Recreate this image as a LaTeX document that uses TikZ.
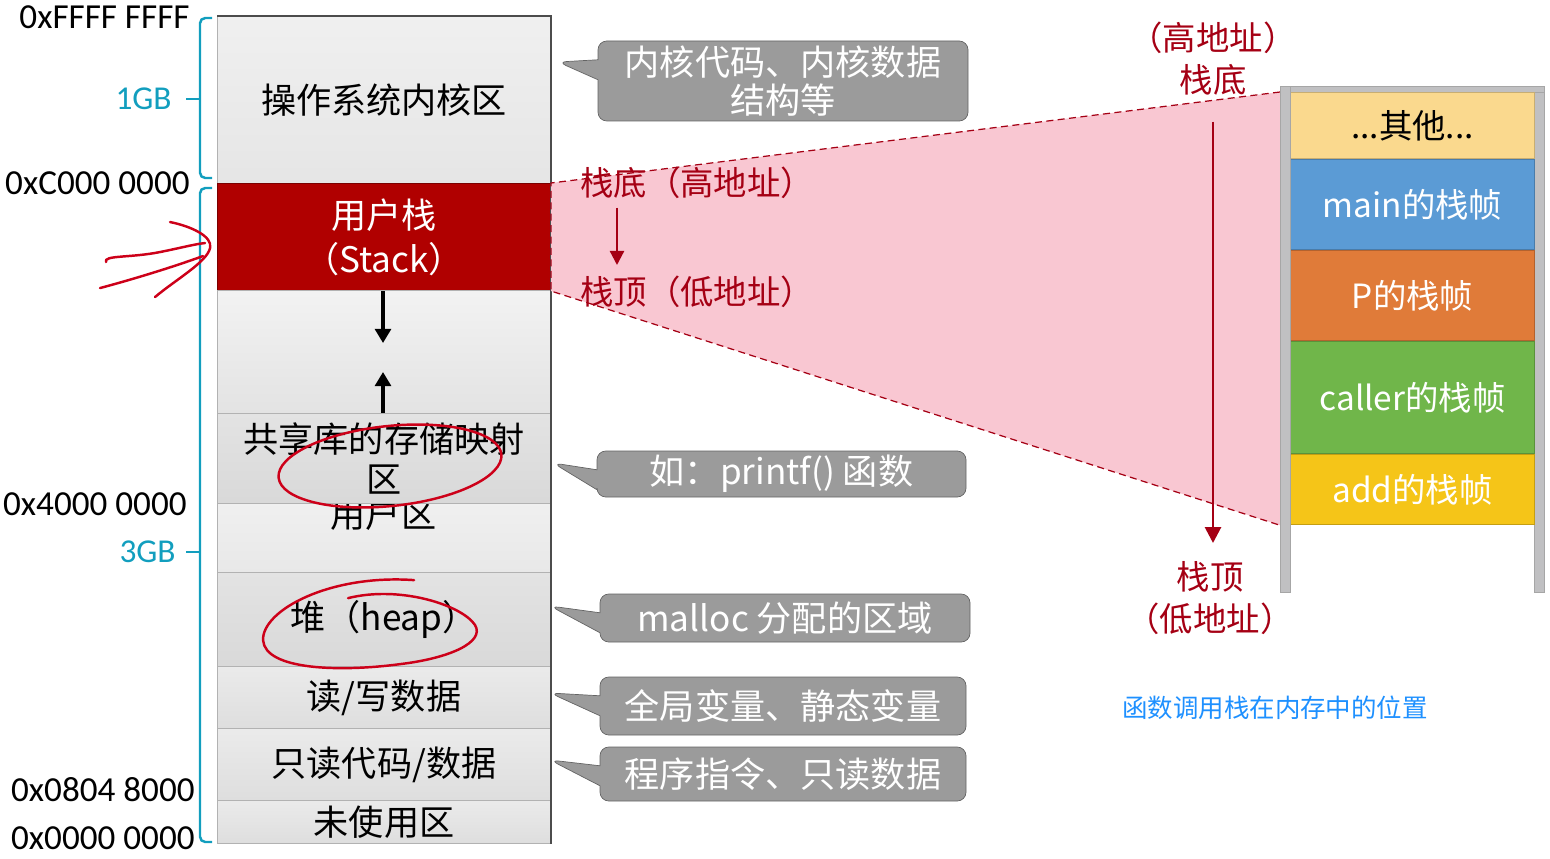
\documentclass[tikz,border=0pt]{standalone}
\usepackage{fontspec}
\setmainfont{Noto Sans CJK SC}
\newfontfamily\addrfont{Carlito}
\usetikzlibrary{arrows.meta,positioning,shapes.callouts}
\definecolor{stackRed}{RGB}{176,0,0}
\definecolor{inkRed}{RGB}{165,0,20}
\definecolor{handRed}{RGB}{205,0,25}
\definecolor{wedgePink}{RGB}{249,199,210}
\definecolor{braceCyan}{RGB}{18,158,190}
\definecolor{noteFill}{RGB}{155,155,155}
\definecolor{noteEdge}{RGB}{100,100,100}
\definecolor{barGray}{RGB}{192,192,194}
\definecolor{frameOther}{RGB}{250,217,142}
\definecolor{frameMain}{RGB}{91,155,213}
\definecolor{frameP}{RGB}{224,123,57}
\definecolor{frameCaller}{RGB}{112,182,74}
\definecolor{frameAdd}{RGB}{245,197,24}
\definecolor{captionBlue}{RGB}{30,144,255}
\tikzset{
  memSeg/.style={draw=gray!60, line width=0.6pt, anchor=north west, minimum width=6.66cm, inner sep=0pt, align=center, font=\fontsize{20}{23}\selectfont},
  memText/.style={inner sep=0pt, align=center, font=\fontsize{20}{23}\selectfont},
  memNote/.style={rectangle callout, draw=noteEdge, fill=noteFill, rounded corners=5pt, text=white, inner sep=0pt, align=center, font=\fontsize{20}{22}\selectfont, callout pointer width=0.40cm},
  addrLabel/.style={anchor=east, inner sep=0pt, font=\addrfont\fontsize{20}{24}\selectfont},
  sizeLabel/.style={inner sep=0pt, text=braceCyan, font=\addrfont\fontsize{19}{22}\selectfont},
  sizeBrace/.style={draw=braceCyan, line width=1.4pt, rounded corners=3pt},
  growArrow/.style={-{Triangle[width=9pt,length=8pt]}, line width=1.9pt},
  redNote/.style={text=inkRed, inner sep=0pt, align=center, font=\fontsize{19}{24}\selectfont},
  redArrow/.style={-{Triangle[width=9pt,length=9pt]}, line width=1.6pt, draw=inkRed, fill=inkRed},
  wedgeEdge/.style={draw=inkRed, line width=0.7pt, dash pattern=on 4pt off 2.5pt},
  frameBox/.style={draw=#1!80!black, fill=#1, line width=0.6pt, minimum width=4.88cm, inner sep=0pt, text=white, font=\fontsize{19}{22}\selectfont},
  frameBar/.style={draw=gray!70, fill=barGray, line width=0.4pt, anchor=north west, inner sep=0pt},
  handInk/.style={draw=handRed, line width=1.4pt, line cap=round}
}
\begin{document}
\begin{tikzpicture}
  \useasboundingbox (0,0) rectangle (31,-17.18);
  % memory column
  \node[memSeg, minimum height=3.34cm, top color=gray!12, bottom color=gray!20] (kernel) at (4.34,-0.32) {操作系统内核区};
  \node[memSeg, minimum height=2.14cm, fill=stackRed, draw=stackRed!70!black, text=white, font=\fontsize{20}{25}\selectfont] (stack) at (4.34,-3.66) {用户栈\\（Stack）};
  \node[memSeg, minimum height=2.46cm, top color=gray!10, bottom color=gray!22] (gap) at (4.34,-5.80) {};
  \node[memSeg, minimum height=1.38cm, top color=gray!12, bottom color=gray!18] (userSeg) at (4.34,-10.06) {};
  \node[memText] (userLabel) at (7.67,-10.28) {用户区};
  \node[memSeg, minimum height=1.80cm, top color=gray!22, bottom color=gray!30] (shared) at (4.34,-8.26) {共享库的存储映射\\区};
  \node[memSeg, minimum height=1.88cm, top color=gray!22, bottom color=gray!30] (heap) at (4.34,-11.44) {堆（heap）};
  \node[memSeg, minimum height=1.24cm, top color=gray!16, bottom color=gray!26] (rwData) at (4.34,-13.32) {读/写数据};
  \node[memSeg, minimum height=1.44cm, top color=gray!16, bottom color=gray!26] (roData) at (4.34,-14.56) {只读代码/数据};
  \node[memSeg, minimum height=0.86cm, top color=gray!16, bottom color=gray!26] (unused) at (4.34,-16.00) {未使用区};
  \draw[black!70, line width=1pt] (kernel.north west) -- (kernel.north east) -- (unused.south east);

  % growth arrows
  \coordinate (stackGrow) at (7.66,-6.86);
  \coordinate (libGrow) at (7.66,-7.44);
  \draw[growArrow] (stack.south -| stackGrow) -- (stackGrow);
  \draw[growArrow] (shared.north -| libGrow) -- (libGrow);

  % addresses and braces
  \node[addrLabel] (addrTop) at (3.80,-0.34) {0xFFFF FFFF};
  \node[addrLabel] (addrKernel) at (3.80,-3.66) {0xC000 0000};
  \node[addrLabel] (addrLib) at (3.74,-10.08) {0x4000 0000};
  \node[addrLabel] (addrCode) at (3.90,-15.80) {0x0804 8000};
  \node[addrLabel] (addrZero) at (3.90,-16.76) {0x0000 0000};
  \draw[sizeBrace] (4.24,-0.36) -- (4.0,-0.36) -- (4.0,-3.56) -- (4.24,-3.56);
  \draw[sizeBrace] (4.24,-3.76) -- (4.0,-3.76) -- (4.0,-16.84) -- (4.24,-16.84);
  \coordinate (tickA) at (3.72,-1.98);
  \coordinate (tickB) at (3.72,-11.04);
  \draw[sizeBrace] (4.0,-1.98) -- (tickA);
  \draw[sizeBrace] (4.0,-11.04) -- (tickB);
  \node[sizeLabel, left=0.28cm of tickA] (sizeKernel) {1GB};
  \node[sizeLabel, left=0.2cm of tickB] (sizeUser) {3GB};

  % notes
  \coordinate (kernelTip) at (11.16,-1.24);
  \coordinate (libTip) at (11.06,-9.26);
  \coordinate (heapTip) at (11.0,-12.12);
  \coordinate (dataTip) at (11.0,-13.86);
  \coordinate (codeTip) at (11.0,-15.20);
  \node[memNote, minimum width=7.40cm, minimum height=1.60cm, callout absolute pointer={(kernelTip)}] (kernelNote) at (15.66,-1.62) {内核代码、内核数据\\结构等};
  \node[memNote, minimum width=7.38cm, minimum height=0.92cm, callout absolute pointer={(libTip)}] (libNote) at (15.63,-9.48) {如：printf() 函数};
  \node[memNote, minimum width=7.40cm, minimum height=0.96cm, callout absolute pointer={(heapTip)}] (heapNote) at (15.70,-12.36) {malloc 分配的区域};
  \node[memNote, minimum width=7.32cm, minimum height=1.16cm, callout absolute pointer={(dataTip)}] (dataNote) at (15.66,-14.12) {全局变量、静态变量};
  \node[memNote, minimum width=7.32cm, minimum height=1.08cm, callout absolute pointer={(codeTip)}] (codeNote) at (15.66,-15.48) {程序指令、只读数据};

  % call stack
  \node[frameBar, minimum width=0.2cm, minimum height=10.12cm] (leftBar) at (25.6,-1.72) {};
  \node[frameBar, minimum width=0.2cm, minimum height=10.12cm] (rightBar) at (30.68,-1.72) {};
  \node[frameBar, minimum width=5.28cm, minimum height=0.12cm] (topBar) at (25.6,-1.72) {};
  \node[frameBox=frameOther, text=black, minimum height=1.32cm, anchor=north west] (otherFrame) at (25.8,-1.84) {...其他...};
  \node[frameBox=frameMain, minimum height=1.80cm, below=0pt of otherFrame] (mainFrame) {main的栈帧};
  \node[frameBox=frameP, minimum height=1.80cm, below=0pt of mainFrame] (pFrame) {P的栈帧};
  \node[frameBox=frameCaller, minimum height=2.24cm, below=0pt of pFrame] (callerFrame) {caller的栈帧};
  \node[frameBox=frameAdd, minimum height=1.40cm, below=0pt of callerFrame] (addFrame) {add的栈帧};

  % zoom wedge
  \fill[wedgePink] (stack.north east) -- (leftBar.west |- otherFrame.north) -- (leftBar.west |- addFrame.south) -- (stack.south east) -- cycle;
  \draw[wedgeEdge] (leftBar.west |- otherFrame.north) -- (stack.north east) -- (stack.south east) -- (leftBar.west |- addFrame.south);
  \draw[frameBar] (leftBar.north west) rectangle (leftBar.south east);

  % stack direction
  \node[redNote, anchor=west] (bottomLeft) at (11.6,-3.66) {栈底（高地址）};
  \node[redNote, anchor=west] (topLeft) at (11.6,-5.84) {栈顶（低地址）};
  \coordinate (shortStart) at (12.34,-4.16);
  \coordinate (shortEnd) at (12.34,-5.30);
  \draw[redArrow, line width=1.3pt, -{Triangle[width=8pt,length=8pt]}] (shortStart) -- (shortEnd);
  \node[redNote] (highNote) at (24.26,-1.17) {（高地址）\\栈底};
  \node[redNote] (lowNote) at (24.20,-11.96) {栈顶\\（低地址）};
  \coordinate (longStart) at (24.26,-2.44);
  \coordinate (longEnd) at (24.26,-10.86);
  \draw[redArrow] (longStart) -- (longEnd);

  \node[font=\fontsize{14.5}{17}\selectfont, text=captionBlue, inner sep=0pt] (caption) at (25.5,-14.16) {函数调用栈在内存中的位置};

  % hand marks
  \draw[handInk, rotate around={6:(7.80,-9.32)}] (7.80,-9.32) ellipse (2.24cm and 0.80cm);
  \begin{scope}[x=0.02cm, y=-0.02cm]
    \draw[handInk] (414,580) .. controls (330,574) and (262,610) .. (263,640) .. controls (265,670) and (340,672) .. (400,664) .. controls (450,658) and (485,642) .. (475,625) .. controls (462,605) and (400,585) .. (348,598);
    \draw[handInk] (170,222) .. controls (190,226) and (213,236) .. (210,248) .. controls (207,262) and (175,280) .. (155,297);
    \draw[handInk] (106,262) .. controls (103,255) and (130,258) .. (160,252) .. controls (180,248) and (195,244) .. (205,243);
    \draw[handInk] (100,288) .. controls (130,280) and (170,268) .. (203,256);
  \end{scope}
\end{tikzpicture}
\end{document}
